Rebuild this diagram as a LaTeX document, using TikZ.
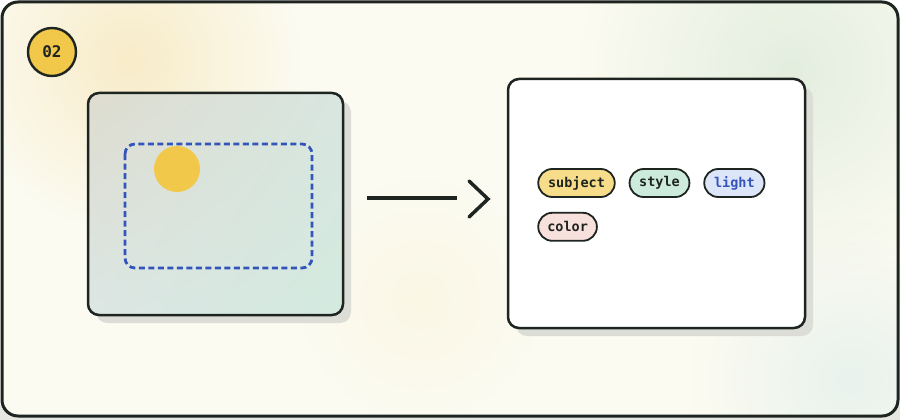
\documentclass[tikz,border=0pt]{standalone}
\usepackage{fontspec}
\newfontfamily\monob{DejaVu Sans Mono}[BoldFont=* Bold]
\usepackage{tikz}
\usetikzlibrary{positioning,shapes.misc,fadings,shadings,calc}
\definecolor{ink}{HTML}{1E2420}
\definecolor{sun}{HTML}{F2C84B}
\definecolor{dashblue}{HTML}{3355BB}
\definecolor{cream}{HTML}{FCFBF1}
\definecolor{shadowgray}{HTML}{DCDDD6}
\definecolor{warmglow}{HTML}{F7E8BE}
\definecolor{greenglow}{HTML}{DDEBDB}
\definecolor{mintglow}{HTML}{E4F0EC}
\definecolor{paleglow}{HTML}{FAF6E2}
\definecolor{photoUL}{HTML}{DEDCCF}
\definecolor{photoUR}{HTML}{D8E6E0}
\definecolor{photoLL}{HTML}{DCE6E4}
\definecolor{photoLR}{HTML}{D3EADF}
\definecolor{tagsubject}{HTML}{F7DC8A}
\definecolor{tagstyle}{HTML}{CDEBDD}
\definecolor{taglight}{HTML}{DDE5F8}
\definecolor{tagcolor}{HTML}{F8E0DC}
\tikzfading[name=glowfade,inner color=transparent!0,outer color=transparent!100]
\tikzset{
  card/.style={draw=ink,line width=2.5pt,rounded corners=11pt},
  cardshadow/.style={fill=shadowgray,rounded corners=11pt},
  tag/.style={rounded rectangle,draw=ink,line width=1.8pt,minimum height=28pt,
    inner xsep=8pt,font=\monob\bfseries\fontsize{13.5}{15}\selectfont,text=ink},
  flow/.style={ink,line width=3.5pt},
  glow/.style={path fading=glowfade,fill opacity=0.8}
}

\begin{document}
\begin{tikzpicture}[x=1pt,y=-1pt]
\useasboundingbox (0,0) rectangle (900,420);
\fill[shadowgray!70] (0,405) rectangle (900,420);
% frame and soft background
\begin{scope}
\clip[rounded corners=16pt] (2,2) rectangle (898,416);
\fill[cream] (0,0) rectangle (900,420);
\fill[glow,warmglow] (130,60) circle (170);
\fill[glow,greenglow] (790,70) circle (210);
\fill[glow,mintglow] (850,380) circle (160);
\fill[glow,paleglow] (420,300) circle (120);
\end{scope}
\draw[ink,line width=3pt,rounded corners=16pt] (2,2) rectangle (898,416);

% step badge
\node[circle,draw=ink,line width=2.4pt,fill=sun,minimum size=48pt,inner sep=0pt,
  font=\monob\bfseries\fontsize{16}{18}\selectfont,text=ink] (badge) at (52,52) {02};

% input picture
\fill[cardshadow] (96,101) rectangle (351,323);
\shade[rounded corners=11pt,upper left=photoUL,lower right=photoLR,
  upper right=photoUR,lower left=photoLL] (88,93) rectangle (343,315);
\draw[card] (88,93) rectangle (343,315);
\node[fill=sun,circle,minimum size=46pt,inner sep=0pt] (sunspot) at (177,169) {};
\draw[dashblue,line width=2.8pt,dash pattern=on 6pt off 3.5pt,rounded corners=10pt]
  (125,144) rectangle (312,268);

% arrow
\coordinate (from) at (367,198);
\coordinate (to) at (457,198);
\coordinate (tip) at (488,199);
\draw[flow] (from) -- (to);
\draw[flow,line cap=round] ($(tip)+(-19,-18)$) -- (tip) -- ($(tip)+(-19,18)$);

% output tags
\fill[cardshadow] (516,87) rectangle (813,336);
\draw[card,fill=white] (508,79) rectangle (805,328);
\node[tag,fill=tagsubject] (subject) at (576.5,183) {subject};
\node[tag,fill=tagstyle,right=13pt of subject] (style) {style};
\node[tag,fill=taglight,text=dashblue,right=13pt of style] (light) {light};
\node[tag,fill=tagcolor,below=14pt of subject.south west,anchor=north west] (color) {color};
\end{tikzpicture}
\end{document}
